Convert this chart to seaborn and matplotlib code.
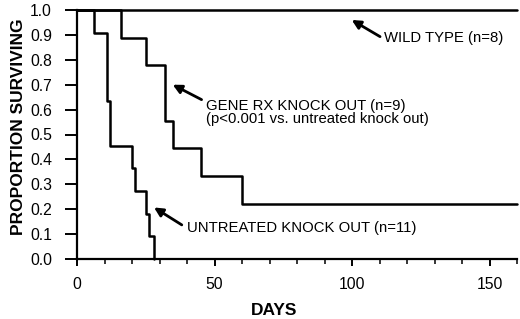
import pandas as pd
import numpy as np
import matplotlib.pyplot as plt
from matplotlib.ticker import MultipleLocator, FormatStrFormatter
import seaborn as sns

# Kaplan-Meier step values
wild_days = [0, 160]
wild_surv = [1.0, 1.0]

gene_days = [0, 16, 25, 32, 35, 45, 60, 160]
gene_surv = [1.0, 0.889, 0.778, 0.556, 0.444, 0.333, 0.222, 0.222]

untreated_days = [0, 6, 11, 12, 20, 21, 25, 26, 28]
untreated_surv = [1.0, 0.909, 0.636, 0.455, 0.364, 0.273, 0.182, 0.091, 0.0]

x_ticks = [0, 50, 100, 150]
y_ticks = [0.0, 0.1, 0.2, 0.3, 0.4, 0.5, 0.6, 0.7, 0.8, 0.9, 1.0]

df = pd.concat([
    pd.DataFrame({'day': wild_days, 'surv': wild_surv, 'group': 'wild'}),
    pd.DataFrame({'day': gene_days, 'surv': gene_surv, 'group': 'gene'}),
    pd.DataFrame({'day': untreated_days, 'surv': untreated_surv, 'group': 'untreated'}),
])

sns.set_style('ticks')
plt.rcParams['font.family'] = ['Liberation Sans', 'DejaVu Sans']
plt.rcParams.update({'text.color': 'black', 'axes.labelcolor': 'black',
                     'xtick.color': 'black', 'ytick.color': 'black',
                     'axes.edgecolor': 'black'})

fig = plt.figure(figsize=(5.2, 3.19), dpi=100)
ax = fig.add_axes([77/520, 60/319, 440/520, 249/319])

sns.lineplot(data=df, x='day', y='surv', hue='group',
             palette={'wild': 'black', 'gene': 'black', 'untreated': 'black'},
             estimator=None, sort=False, legend=False, drawstyle='steps-post',
             lw=1.8, clip_on=False, ax=ax)

ax.set_xlim(0, 160)
ax.set_ylim(0, 1.0)
ax.set_xticks(x_ticks)
ax.set_yticks(y_ticks)
ax.xaxis.set_minor_locator(MultipleLocator(10))
ax.yaxis.set_major_formatter(FormatStrFormatter('%.1f'))
sns.despine(ax=ax)
for s in ['left', 'bottom']:
    ax.spines[s].set_linewidth(1.6)
ax.tick_params(axis='y', length=9, width=1.4, pad=9, labelsize=11.3)
ax.tick_params(axis='x', which='major', length=5, width=1.4, pad=8, labelsize=11.3)
ax.tick_params(axis='x', which='minor', length=3.5, width=1.1)

ax.set_xlabel('DAYS', fontsize=12.5, fontweight='bold')
ax.set_ylabel('PROPORTION SURVIVING', fontsize=12.5, fontweight='bold')
ax.xaxis.set_label_coords(0.447, -0.175)
ax.yaxis.set_label_coords(-0.116, 0.532)

arrow = dict(arrowstyle='-|>', color='black', lw=2, mutation_scale=13, shrinkA=0, shrinkB=0)
ax.annotate('', xy=(99.9, 0.96), xytext=(110.2, 0.893), arrowprops=arrow, annotation_clip=False)
ax.annotate('', xy=(34.8, 0.70), xytext=(45.3, 0.64), arrowprops=arrow)
ax.annotate('', xy=(28, 0.207), xytext=(38.1, 0.137), arrowprops=arrow)

ax.text(111.5, 0.888, 'WILD TYPE (n=8)', fontsize=10.7, ha='left', va='center')
ax.text(46.8, 0.588, 'GENE RX KNOCK OUT (n=9)\n(p<0.001 vs. untreated knock out)',
        fontsize=10.7, ha='left', va='center', linespacing=0.85)
ax.text(39.9, 0.123, 'UNTREATED KNOCK OUT (n=11)', fontsize=10.7, ha='left', va='center')

plt.savefig('out.png', dpi=100)
